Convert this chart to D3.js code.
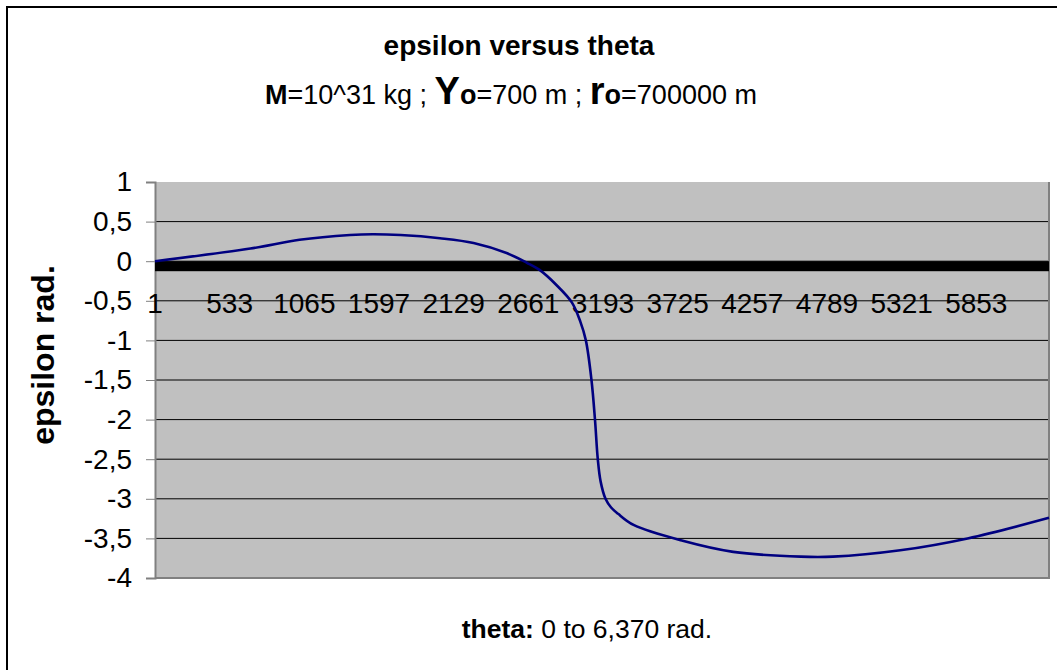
<!DOCTYPE html>
<html>
<head>
<meta charset="utf-8">
<script src="https://cdn.jsdelivr.net/npm/d3@7"></script>
<style>
  body { margin: 0; background: #fff; }
  text { font-family: "Liberation Sans", Arial, sans-serif; fill: #000; }
</style>
</head>
<body>
<svg id="chart" width="1057" height="670"></svg>
<script>
// theta in rad (point n = theta*1000 + 1), epsilon in rad
var theta = [0, 0.68, 1.03, 1.39, 1.55, 1.75, 2.03, 2.27, 2.51, 2.65, 2.74, 2.86, 2.97, 3.03, 3.07,
             3.11, 3.135, 3.155, 3.175, 3.21, 3.25, 3.30, 3.41, 3.76, 4.12, 4.6, 4.83, 5.31, 5.79, 6.37];
var epsilon = [0, 0.16, 0.27, 0.33, 0.34, 0.33, 0.29, 0.23, 0.10, -0.02, -0.11, -0.30, -0.52, -0.76, -1.0,
               -1.5, -2.0, -2.5, -2.78, -3.0, -3.11, -3.19, -3.33, -3.53, -3.67, -3.73, -3.73, -3.65, -3.5, -3.24];
var catLabels = [1, 533, 1065, 1597, 2129, 2661, 3193, 3725, 4257, 4789, 5321, 5853];
var yTicks = [1, 0.5, 0, -0.5, -1, -1.5, -2, -2.5, -3, -3.5, -4];

var svg = d3.select("#chart");
var pLeft = 155, pRight = 1049, pTop = 182, pBottom = 578;

var x = d3.scaleLinear().domain([1, 6371]).range([pLeft, pRight]);
var y = d3.scaleLinear().domain([1, -4]).range([pTop, pBottom]);
var fmt = function(d) { return String(d).replace(".", ","); };

// outer frame
svg.append("rect")
    .attr("x", 7).attr("y", 7)
    .attr("width", 1080).attr("height", 700)
    .attr("fill", "none")
    .attr("stroke", "#000")
    .attr("stroke-width", 2);

// plot area
svg.append("rect")
    .attr("x", pLeft).attr("y", pTop)
    .attr("width", pRight - pLeft).attr("height", pBottom - pTop)
    .attr("fill", "#c0c0c0");

// gridlines
svg.append("g").selectAll("line")
    .data(yTicks.slice(1, -1))
    .enter().append("line")
    .attr("x1", pLeft).attr("x2", pRight)
    .attr("y1", function(d) { return y(d); })
    .attr("y2", function(d) { return y(d); })
    .attr("stroke", "#000")
    .attr("stroke-width", 1);

// plot border right/bottom
svg.append("path")
    .attr("d", "M" + pRight + "," + pTop + "V" + pBottom + "H" + pLeft)
    .attr("fill", "none")
    .attr("stroke", "#808080")
    .attr("stroke-width", 2);

// value axis
var yAxis = d3.axisLeft(y).tickValues(yTicks).tickFormat(fmt).tickSize(9).tickPadding(14);
var yg = svg.append("g")
    .attr("transform", "translate(" + pLeft + ",0)")
    .call(yAxis);
yg.select(".domain").attr("stroke", "#808080").attr("stroke-width", 2);
yg.selectAll(".tick line").attr("stroke", "#808080");
yg.selectAll("text")
    .attr("font-size", "28px")
    .attr("font-family", "Liberation Sans, Arial, sans-serif")
    .attr("fill", "#000");

// category axis crossing at 0 (thick)
svg.append("rect")
    .attr("x", pLeft).attr("y", y(0))
    .attr("width", pRight - pLeft).attr("height", 10)
    .attr("fill", "#000");

// category labels
svg.append("g").selectAll("text")
    .data(catLabels)
    .enter().append("text")
    .attr("x", function(d) { return x(d); })
    .attr("y", 313)
    .attr("text-anchor", "middle")
    .attr("font-size", "28px")
    .text(function(d) { return d; });

// series
var line = d3.line()
    .x(function(d, i) { return x(theta[i] * 1000 + 1); })
    .y(function(d) { return y(d); })
    .curve(d3.curveCatmullRom.alpha(0.5));

svg.append("path")
    .datum(epsilon)
    .attr("d", line)
    .attr("fill", "none")
    .attr("stroke", "#000080")
    .attr("stroke-width", 2.6);

// titles
svg.append("text")
    .attr("x", 519).attr("y", 55)
    .attr("text-anchor", "middle")
    .attr("font-size", "28px")
    .attr("font-weight", "bold")
    .text("epsilon versus theta");

var sub = svg.append("text")
    .attr("x", 511).attr("y", 104)
    .attr("text-anchor", "middle")
    .attr("font-size", "27px");
sub.append("tspan").attr("font-weight", "bold").text("M");
sub.append("tspan").text("=10^31 kg ; ");
sub.append("tspan").attr("font-weight", "bold").attr("font-size", "38px").text("Y");
sub.append("tspan").attr("font-weight", "bold").text("o");
sub.append("tspan").text("=700 m ; ");
sub.append("tspan").attr("font-weight", "bold").attr("font-size", "38px").text("r");
sub.append("tspan").attr("font-weight", "bold").text("o");
sub.append("tspan").text("=700000 m");

var xt = svg.append("text")
    .attr("x", 587).attr("y", 638)
    .attr("text-anchor", "middle")
    .attr("font-size", "26.5px");
xt.append("tspan").attr("font-weight", "bold").text("theta:");
xt.append("tspan").text(" 0 to 6,370 rad.");

svg.append("text")
    .attr("transform", "translate(54,355) rotate(-90)")
    .attr("text-anchor", "middle")
    .attr("font-size", "32px")
    .attr("font-weight", "bold")
    .text("epsilon rad.");
</script>
</body>
</html>
